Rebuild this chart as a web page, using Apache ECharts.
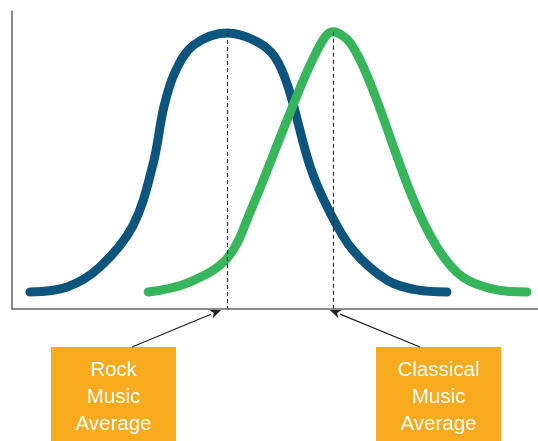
<!DOCTYPE html>
<html>
<head>
<meta charset="utf-8">
<script src="https://cdn.jsdelivr.net/npm/echarts@6/dist/echarts.min.js"></script>
<style>
html, body { margin: 0; padding: 0; background: #fff; }
#main { width: 538px; height: 441px; }
</style>
</head>
<body>
<div id="main"></div>
<script>
// curve points, [x, y] in 0..100 units
var rockCurve = [
    [3.4, 5.7], [10.5, 7.4], [16.7, 14.1], [23.0, 28.0], [26.8, 48.5],
    [28.9, 68.0], [31.0, 79.5], [34.5, 88.5], [40.9, 92.6],
    [46.5, 89.8], [50.0, 84.5], [52.5, 74.5], [56.7, 47.7],
    [60.5, 32.2], [64.8, 19.8], [71.3, 9.7], [77.0, 6.4], [82.7, 5.7]
];
var classicalCurve = [
    [25.9, 5.7], [33.3, 8.7], [40.9, 17.0], [45.5, 33.5],
    [52.3, 63.4], [57.8, 86.0], [61.0, 93.0], [64.3, 89.3],
    [68.1, 75.8], [76.0, 38.0], [80.8, 20.8],
    [85.7, 10.7], [92.2, 6.4], [97.9, 5.7]
];
var rockMean = [40.9, 92.6];
var classicalMean = [61.0, 93.0];
var boxLabels = ['Rock\nMusic\nAverage', 'Classical\nMusic\nAverage'];

function meanLine(p) {
    return {
        symbol: 'none',
        silent: true,
        label: { show: false },
        lineStyle: { color: '#333', width: 1.2, type: [4, 3] },
        data: [[{ coord: [p[0], p[1]] }, { coord: [p[0], 0] }]]
    };
}

var chart = echarts.init(document.getElementById('main'));
var option = {
    animation: false,
    grid: { left: 12, right: 0, top: 11, bottom: 132 },
    xAxis: {
        type: 'value', min: 0, max: 100,
        axisLine: { show: true, lineStyle: { color: '#666', width: 1.5 } },
        axisTick: { show: false }, axisLabel: { show: false }, splitLine: { show: false }
    },
    yAxis: {
        type: 'value', min: 0, max: 100,
        axisLine: { show: true, lineStyle: { color: '#666', width: 1.5 } },
        axisTick: { show: false }, axisLabel: { show: false }, splitLine: { show: false }
    },
    series: [
        {
            name: 'Rock', type: 'line', smooth: 0.35, showSymbol: false,
            data: rockCurve,
            lineStyle: { color: '#0e557e', width: 9, cap: 'round' },
            markLine: meanLine(rockMean)
        },
        {
            name: 'Classical', type: 'line', smooth: 0.35, showSymbol: false,
            data: classicalCurve,
            lineStyle: { color: '#37b55a', width: 9, cap: 'round' },
            markLine: meanLine(classicalMean)
        }
    ]
};
chart.setOption(option);

// annotation boxes with arrows pointing at the means on the x axis
function arrow(from, to) {
    var dx = to[0] - from[0], dy = to[1] - from[1];
    var len = Math.sqrt(dx * dx + dy * dy);
    var ux = dx / len, uy = dy / len;
    var hl = 11, hw = 4.5;
    var bx = to[0] - ux * hl, by = to[1] - uy * hl;
    return [
        { type: 'line', shape: { x1: from[0], y1: from[1], x2: bx, y2: by },
          style: { stroke: '#222', lineWidth: 1.2 } },
        { type: 'polygon', shape: { points: [
            to, [bx - uy * hw, by + ux * hw], [to[0] - ux * 8, to[1] - uy * 8], [bx + uy * hw, by - ux * hw]
          ] }, style: { fill: '#222' } }
    ];
}
function box(x, text) {
    return {
        type: 'group', x: x, y: 347,
        children: [
            { type: 'rect', shape: { x: 0, y: 0, width: 125, height: 94 }, style: { fill: '#f6ab1f' } },
            { type: 'text', x: 62.5, y: 10, style: {
                text: text, fill: '#fff', align: 'center', verticalAlign: 'top',
                font: '20.5px "Liberation Sans", Arial, sans-serif', lineHeight: 27
            } }
        ]
    };
}
var rockTip = chart.convertToPixel({ gridIndex: 0 }, [rockMean[0], 0]);
var classTip = chart.convertToPixel({ gridIndex: 0 }, [classicalMean[0], 0]);
var elements = [box(51, boxLabels[0]), box(376, boxLabels[1])]
    .concat(arrow([132, 347], [rockTip[0] - 6, rockTip[1] + 1]))
    .concat(arrow([420, 347], [classTip[0] - 3, classTip[1] + 1]));
chart.setOption({ graphic: { elements: elements } });
</script>
</body>
</html>
